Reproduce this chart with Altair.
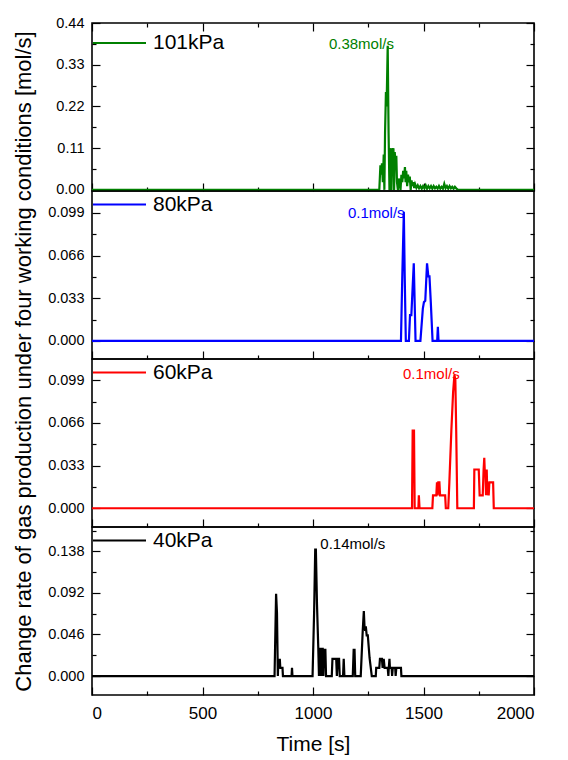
import altair as alt
import pandas as pd

FONT = "Liberation Sans"

# ---------------- data ----------------
labels = ["101kPa", "80kPa", "60kPa", "40kPa"]
colors = ["#008000", "#0000ff", "#ff0000", "#000000"]

t_101 = [0, 1300, 1305, 1309, 1312, 1316, 1320, 1323, 1326, 1330,
         1333, 1338, 1342, 1346, 1349, 1352, 1355, 1358, 1361, 1364,
         1367, 1370, 1373, 1377, 1380, 1384, 1388, 1392, 1396, 1400,
         1404, 1408, 1412, 1416, 1419, 1422, 1426, 1430, 1434, 1438,
         1442, 1446, 1450, 1454, 1458, 1462,
         1468, 1474, 1480, 1486, 1492, 1498, 1504, 1510, 1516, 1522,
         1528, 1534, 1540, 1546, 1552, 1558, 1564, 1570, 1576, 1582,
         1588, 1594, 1600, 1606, 1612, 1618, 1624, 1630, 1636, 1642,
         1648, 1656, 2000]
v_101 = [0, 0, 0.065, 0.04, 0.07, 0.02, 0.093, 0.0, 0.15, 0.258,
         0.22, 0.38, 0.15, 0.0, 0.11, 0.03, 0.0, 0.11, 0.05, 0.11,
         0.0, 0.1, 0.06, 0.09, 0.02, 0.0, 0.03, 0.02, 0.0, 0.04,
         0.02, 0.05, 0.03, 0.06, 0.02, 0.05, 0.01, 0.04, 0.02, 0.035,
         0.0, 0.025, 0.01, 0.02, 0.005, 0.015,
         0.005, 0.012, 0.004, 0.01, 0.003, 0.01, 0.004, 0.012, 0.003, 0.01,
         0.004, 0.01, 0.003, 0.01, 0.004, 0.008, 0.003, 0.01, 0.003, 0.008,
         0.003, 0.016, 0.004, 0.01, 0.003, 0.01, 0.004, 0.008, 0.003, 0.008,
         0.004, 0.0, 0]

t_80 = [0, 1398, 1404, 1411, 1415, 1420, 1434, 1439, 1445, 1456,
        1464, 1486, 1497, 1502, 1508, 1516, 1522, 1527, 1533, 1541,
        1562, 1565, 1568, 2000]
v_80 = [0, 0, 0.05, 0.1, 0.05, 0, 0, 0.02, 0.02, 0.06,
        0, 0, 0.025, 0.03, 0.031, 0.06, 0.05, 0.05, 0.03, 0,
        0, 0.011, 0, 0]

t_60 = [0, 1448, 1451, 1457, 1460, 1477, 1479, 1482, 1540, 1543,
        1558, 1561, 1564, 1567, 1572, 1575, 1598, 1601, 1612, 1617,
        1626, 1634, 1640, 1644, 1648, 1653, 1728, 1730, 1750, 1754,
        1768, 1772, 1775, 1778, 1780, 1783, 1786, 1789, 1792, 1795,
        1798, 1815, 1818, 2000]
v_60 = [0, 0, 0.06, 0.06, 0, 0, 0.01, 0, 0, 0.01,
        0.01, 0.02, 0.01, 0.02, 0.02, 0.01, 0.01, 0, 0, 0.02,
        0.06, 0.09, 0.103, 0.1, 0.06, 0, 0, 0.03, 0.03, 0.01,
        0.01, 0.03, 0.039, 0.025, 0.03, 0.01, 0.03, 0.01, 0.02, 0.01,
        0.02, 0.02, 0, 0]

t_40 = [0, 826, 833, 837, 841, 843, 850, 852, 862, 864,
        903, 905, 907,
        998, 1005, 1010, 1013, 1018, 1024, 1027, 1030, 1034, 1037,
        1040, 1044, 1047, 1050, 1056, 1059,
        1085, 1088, 1105, 1108, 1112, 1118, 1121, 1136, 1139, 1142,
        1180, 1184, 1188, 1191,
        1216, 1225, 1230, 1233, 1236, 1239, 1243, 1248, 1256, 1266,
        1284, 1286, 1300, 1303, 1312, 1315, 1320, 1324, 1338, 1341,
        1343, 1346, 1348, 1356, 1358, 1361, 1372, 1374, 1377, 1398,
        1400, 2000]
v_40 = [0, 0, 0.091, 0.07, 0.0, 0.018, 0.018, 0.009, 0.009, 0,
        0, 0.009, 0,
        0, 0.07, 0.14, 0.14, 0.08, 0.03, 0.0, 0.03, 0.03, 0.0,
        0.03, 0.03, 0.0, 0.029, 0.029, 0,
        0, 0.019, 0.019, 0, 0.019, 0.019, 0, 0, 0.019, 0,
        0, 0.029, 0.029, 0,
        0, 0.05, 0.072, 0.055, 0.05, 0.055, 0.045, 0.045, 0.02, 0,
        0, 0.009, 0.009, 0.019, 0.019, 0.009, 0.019, 0.009, 0.009, 0,
        0.009, 0.019, 0.009, 0.009, 0, 0.009, 0.009, 0, 0.009, 0.009,
        0, 0]

times = [t_101, t_80, t_60, t_40]
values = [v_101, v_80, v_60, v_40]

peak_text = ["0.38mol/s", "0.1mol/s", "0.1mol/s", "0.14mol/s"]
peak_t = [1072, 1158, 1407, 1033]
peak_v = [0.385, 0.099, 0.104, 0.146]

x_major = [0, 500, 1000, 1500, 2000]
x_minor = [250, 750, 1250, 1750]
y_domains = [[-0.003, 0.44], [-0.014, 0.116], [-0.0145, 0.1155], [-0.021, 0.165]]
y_major = [[0, 0.11, 0.22, 0.33, 0.44],
           [0, 0.033, 0.066, 0.099],
           [0, 0.033, 0.066, 0.099],
           [0, 0.046, 0.092, 0.138]]
y_minor = [[0.055, 0.165, 0.275, 0.385],
           [0.0165, 0.0495, 0.0825],
           [0.0165, 0.0495, 0.0825],
           [0.023, 0.069, 0.115, 0.161]]
y_formats = [".2f", ".3f", ".3f", ".3f"]

y_title = "Change rate of gas production under four working conditions [mol/s]"

# ---------------- layout ----------------
W, H = 442, 168
MAJ, MIN = 8, 4
legend_y = [-7.5, -14, -14, -14]


def tick_axis(orient, vals, size, offset):
    return alt.Axis(orient=orient, offset=offset, values=vals, tickSize=size,
                    ticks=True, labels=False, domain=False, grid=False,
                    title=None, tickColor="black", tickWidth=1.2)


def panel(i):
    assert len(times[i]) == len(values[i])
    df = pd.DataFrame({"t": times[i], "v": values[i], "series": labels[i]})
    ann = pd.DataFrame({"t": [peak_t[i]], "v": [peak_v[i]], "txt": [peak_text[i]]})
    xs = alt.Scale(domain=[0, 2000], nice=False, zero=False)
    ys = alt.Scale(domain=y_domains[i], nice=False, zero=False)
    last = i == 3
    first = i == 0

    if last:
        x_lab = alt.Axis(orient="bottom", values=x_major, ticks=False, tickSize=0,
                         domain=False, grid=False, labelPadding=10, labelFontSize=17,
                         format="d", title="Time [s]", titleFontSize=21,
                         titleFontWeight="normal", titlePadding=12)
    else:
        x_lab = None

    ykw = dict(orient="left", values=y_major[i], ticks=False, tickSize=0,
               domain=False, grid=False, labelPadding=8, labelFontSize=14.5,
               format=y_formats[i])
    if i == 1:
        ykw.update(title=y_title, titleFontSize=22, titleFontWeight="normal",
                   titleX=-69, titleY=170, titleAngle=270, titleAlign="center",
                   titleBaseline="middle")
    else:
        ykw.update(title=None)
    y_lab = alt.Axis(**ykw)

    base = alt.Chart(df)
    line = base.mark_line(strokeWidth=2.2).encode(
        x=alt.X("t:Q", scale=xs, axis=x_lab),
        y=alt.Y("v:Q", scale=ys, axis=y_lab),
        color=alt.Color("series:N",
                        scale=alt.Scale(domain=[labels[i]], range=[colors[i]]),
                        legend=alt.Legend(orient="none", legendX=0, legendY=legend_y[i],
                                          title=None, symbolType="stroke",
                                          symbolSize=2809, symbolStrokeWidth=2,
                                          labelFontSize=21, labelColor="black",
                                          labelOffset=6, padding=0, labelFont=FONT)),
    )
    ghost = base.mark_line(opacity=0)
    l2 = ghost.encode(
        x=alt.X("t:Q", scale=xs, axis=tick_axis("top", x_major, MAJ, -H)),
        y=alt.Y("v:Q", scale=ys, axis=tick_axis("right", y_major[i], MAJ, -W)),
    )
    l3 = ghost.encode(
        x=alt.X("t:Q", scale=xs, axis=tick_axis("top", x_minor, MIN, -H)),
        y=alt.Y("v:Q", scale=ys, axis=tick_axis("right", y_minor[i], MIN, -W)),
    )
    l4 = ghost.encode(
        x=alt.X("t:Q", scale=xs,
                axis=tick_axis("bottom", x_major, MAJ, -H) if first else None),
        y=alt.Y("v:Q", scale=ys, axis=tick_axis("left", y_major[i], MAJ, -W)),
    )
    l5 = ghost.encode(
        x=alt.X("t:Q", scale=xs,
                axis=tick_axis("bottom", x_minor, MIN, -H) if first else None),
        y=alt.Y("v:Q", scale=ys, axis=tick_axis("left", y_minor[i], MIN, -W)),
    )
    txt = alt.Chart(ann).mark_text(align="left", baseline="middle", fontSize=15,
                                   color=colors[i], font=FONT).encode(
        x=alt.X("t:Q", scale=xs, axis=None),
        y=alt.Y("v:Q", scale=ys, axis=None),
        text="txt:N",
    )
    return alt.layer(line, l2, l3, l4, l5, txt).resolve_axis(
        x="independent", y="independent").properties(width=W, height=H)


chart = alt.vconcat(*[panel(i) for i in range(4)], spacing=0, bounds="flush").resolve_scale(
    color="independent"
).configure(font=FONT).configure_view(
    stroke="black", strokeWidth=1.6
).configure_axis(
    labelColor="black", titleColor="black", tickColor="black",
    labelFont=FONT, titleFont=FONT
).properties(
    padding={"left": 11, "top": 14, "right": 5, "bottom": 5}
)

chart.save("out.html", embed_options={"renderer": "svg", "actions": False})
